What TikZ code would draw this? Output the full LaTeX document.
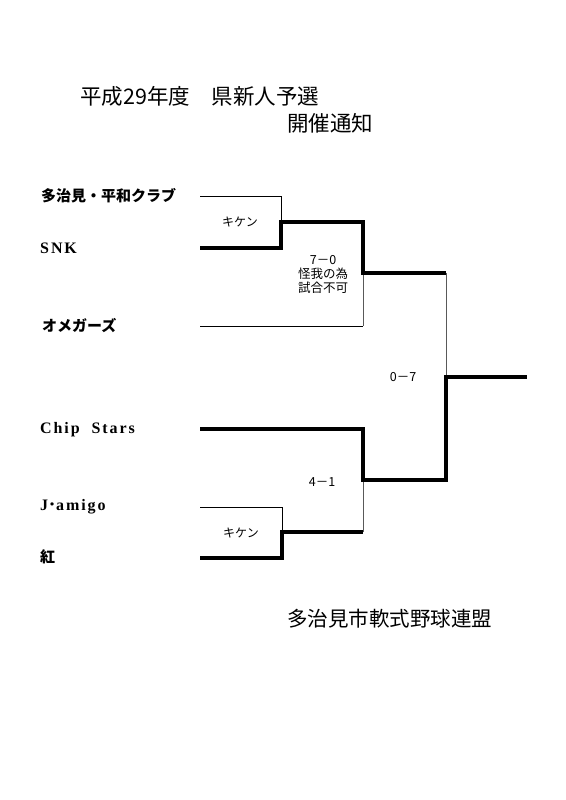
\documentclass[tikz,border=0pt]{standalone}
\usepackage{fontspec}
\setmainfont{Noto Sans CJK JP}
\newfontfamily\cjk{Noto Sans CJK JP}
\newfontfamily\latinserif[LetterSpace=12]{Liberation Serif}
\begin{document}
\begin{tikzpicture}[x=1pt,y=-1pt,
  thinl/.style={line width=1pt,line join=miter},
  thickl/.style={line width=3.4pt,line join=miter},
  vthin/.style={line width=0.8pt,black!65},
  team/.style={anchor=west,inner sep=0pt,font=\bfseries\fontsize{15}{15}\selectfont},
  lat/.style={anchor=west,inner sep=0pt,font=\latinserif\bfseries\fontsize{16}{16}\selectfont},
  small/.style={inner sep=0pt,font=\fontsize{12}{12}\selectfont},
  score/.style={inner sep=0pt,font=\fontsize{12.5}{14}\selectfont,align=center},
  title/.style={anchor=west,inner sep=0pt,font=\fontsize{21.5}{22}\selectfont}]
\useasboundingbox (0,0) rectangle (565,800);
\fill[white] (0,0) rectangle (565,800);
% titles
\node[title] (t) at (80,96) {平成29年度　県新人予選};
\node[title] (t2) at (287,123) {開催通知};
\node[title,font=\fontsize{20.5}{22}\selectfont] (org) at (287,619) {多治見市軟式野球連盟};
% teams
\node[team] (n1) at (41,196) {多治見・平和クラブ};
\node[lat] (n2) at (40,248) {SNK};
\node[team] (n3) at (42,326) {オメガーズ};
\node[lat] (n4) at (40,430) {Chip\ \ Stars};
\node[lat] (n5) at (40,507) {J{\cjk\bfseries ･}amigo};
\node[team] (n6) at (40,557) {紅};
% coordinates
\coordinate (a1) at (200,196); \coordinate (a2) at (281,196);
\coordinate (m1) at (281,222);
\coordinate (b1) at (200,248); \coordinate (b2) at (281,248);
\coordinate (c1) at (363,222); \coordinate (c2) at (363,273);
\coordinate (d1) at (446,273);
\coordinate (e1) at (200,326); \coordinate (e2) at (363,326);
\coordinate (f1) at (446,377); \coordinate (f2) at (527,377);
\coordinate (g1) at (200,429); \coordinate (g2) at (363,429);
\coordinate (g3) at (363,480); \coordinate (g4) at (446,480);
\coordinate (h1) at (200,507); \coordinate (h2) at (282,507);
\coordinate (m2) at (282,532); \coordinate (m3) at (363,532);
\coordinate (k1) at (200,558); \coordinate (k2) at (282,558);
% bracket lines
\draw[thinl] (a1) -- (a2) -- (m1);
\draw[thinl] (e1) -- (e2);
\draw[vthin] (e2) -- (c2);
\draw[vthin] (d1) -- (f1);
\draw[thinl] (h1) -- (h2) -- (m2);
\draw[vthin] (m3) -- (g3);
\draw[thickl] (b1) -- (b2) -- (m1) -- (c1) -- (c2) -- (d1);
\draw[thickl] (g1) -- (g2) -- (g3) -- (g4) -- (f1) -- (f2);
\draw[thickl] (k1) -- (k2) -- (m2) -- (m3);
% labels
\node[small] (k1l) at (240,222) {キケン};
\node[small] (k2l) at (241,533) {キケン};
\node[score] (s1) at (323,274) {7－0\\怪我の為\\試合不可};
\node[score] (s2) at (403,377) {0－7};
\node[score] (s3) at (322,482) {4－1};
\end{tikzpicture}
\end{document}
